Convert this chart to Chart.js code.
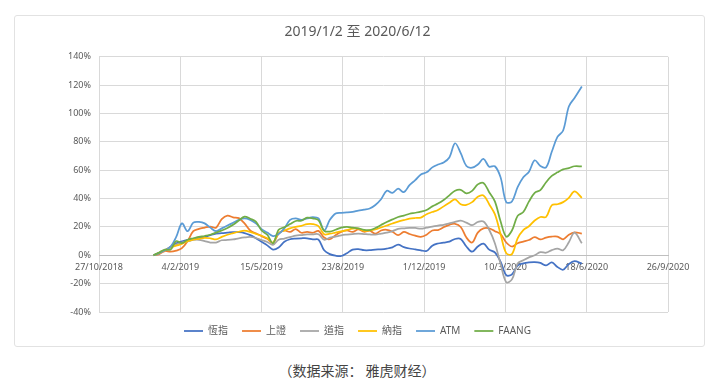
<!DOCTYPE html>
<html>
<head>
<meta charset="utf-8">
<script src="https://cdn.jsdelivr.net/npm/chart.js@4.4.0/dist/chart.umd.min.js"></script>
<style>
  html, body { margin: 0; padding: 0; background: #fff; }
  body { width: 728px; height: 387px; position: relative; overflow: hidden; }
  .card { position: absolute; left: 14px; top: 15px; width: 691px; height: 332px; border: 1px solid #e2e2e2; border-radius: 3px; box-sizing: border-box; }
  .wrap { position: absolute; left: 14px; top: 15px; width: 692px; height: 331px; }
  .source { position: absolute; left: 0; width: 714px; top: 360px; text-align: center; font-size: 14px; line-height: 20px; color: #444; font-family: 'Noto Sans CJK SC', sans-serif; }
</style>
</head>
<body>
<div class="card"></div>
<div class="wrap"><canvas id="perfChart"></canvas></div>
<div class="source">（数据来源： 雅虎财经）</div>
<script>
// weekly samples, 2019/1/2 -> 2020/6/12
const dates = [
  '2019-01-02', '2019-01-09', '2019-01-16', '2019-01-23', '2019-01-30', '2019-02-06', '2019-02-13', '2019-02-20',
  '2019-02-27', '2019-03-06', '2019-03-13', '2019-03-20', '2019-03-27', '2019-04-03', '2019-04-10', '2019-04-17',
  '2019-04-24', '2019-05-01', '2019-05-08', '2019-05-15', '2019-05-22', '2019-05-29', '2019-06-05', '2019-06-12',
  '2019-06-19', '2019-06-26', '2019-07-03', '2019-07-10', '2019-07-17', '2019-07-24', '2019-07-31', '2019-08-07',
  '2019-08-14', '2019-08-21', '2019-08-28', '2019-09-04', '2019-09-11', '2019-09-18', '2019-09-25', '2019-10-02',
  '2019-10-09', '2019-10-16', '2019-10-23', '2019-10-30', '2019-11-06', '2019-11-13', '2019-11-20', '2019-11-27',
  '2019-12-04', '2019-12-11', '2019-12-18', '2019-12-25', '2020-01-01', '2020-01-08', '2020-01-15', '2020-01-22',
  '2020-01-29', '2020-02-05', '2020-02-12', '2020-02-19', '2020-02-26', '2020-03-04', '2020-03-11', '2020-03-18',
  '2020-03-25', '2020-04-01', '2020-04-08', '2020-04-15', '2020-04-22', '2020-04-29', '2020-05-06', '2020-05-13',
  '2020-05-20', '2020-05-27', '2020-06-03', '2020-06-12'
];

// cumulative return, %
const hsi = [0, 1.5, 3.5, 6, 8.5, 9.8, 10.9, 11.4, 12.2, 12.9, 14.2, 15.3, 15.6, 16, 16.4, 16.3, 15.7, 14.2, 12, 9.5,
  7, 4, 5.5, 9.5, 11.3, 11.8, 12, 12, 11.2, 11, 3.5, 0.8, -0.3, -0.5, 1.5, 4, 4.4, 3.6, 3.6, 4,
  4.2, 4.7, 5.6, 7.5, 5.8, 4.8, 4.2, 3.5, 3, 6.8, 8.3, 9, 9.6, 11.5, 11.5, 6.2, 2.5, 6.2, 8.2, 4,
  2, -4.5, -14, -13.5, -7.3, -5.7, -5, -4.8, -5.4, -7.2, -5, -8.2, -10.2, -6.2, -4.2, -5.9];
const shc = [0, 0.8, 3, 2.5, 3.3, 5, 10, 17, 18.6, 19.5, 20.3, 19.5, 25.5, 28, 26.8, 26.2, 22.5, 17.5, 15.5, 13.5,
  11.6, 8.7, 15.2, 17.5, 16.5, 18.5, 15.9, 16.5, 15.9, 17.2, 12.5, 11.3, 14.2, 16.5, 17.5, 16.5, 18.2, 16.6, 17.4, 15.2,
  17.5, 18, 16.6, 14.2, 16.5, 15, 13.8, 13, 14.5, 17.5, 17.8, 19.8, 21.5, 22.2, 20, 12.5, 9, 16, 19, 19,
  17, 15, 9, 6.2, 8.5, 9.6, 10.8, 12.8, 11.2, 12.5, 13.2, 13.2, 11.3, 14.5, 16.2, 15.3];
const dji = [0, 1.8, 3.5, 5.5, 7.5, 9, 9.8, 10.8, 10.9, 10, 9, 9, 10.6, 10.8, 11.2, 12, 12.6, 12.9, 12.2, 10.8,
  9.4, 7.3, 11, 11.8, 12.8, 13.9, 14.3, 14.7, 14.8, 14.8, 11, 12.4, 13.2, 14.1, 14.6, 15, 15.3, 15, 14.7, 14.6,
  15.3, 16, 17, 18.6, 19, 19.4, 19.3, 18.8, 19.5, 20.2, 21, 21.5, 22.5, 23.5, 24.4, 23, 21.2, 23.5, 23.8, 18,
  8.5, -6, -19, -17, -5.8, -3.5, -1.5, 0, 2.2, 1.8, 3.6, 4.7, 3.6, 9.2, 16, 8.5];
const ndx = [0, 1.5, 3.5, 5.5, 6.8, 8, 10, 11, 11.6, 12.3, 12, 11.2, 13, 14.5, 15.6, 16.6, 17.4, 16.5, 15, 13.8,
  12, 9, 15.8, 17.4, 19, 20, 20.8, 22, 22, 20.6, 14.8, 15.2, 16, 16.8, 17.8, 18.8, 18.8, 17.2, 17.5, 18.2,
  19.6, 21, 22.4, 23.7, 24.8, 25.8, 26.3, 26.6, 29, 30.5, 32, 34.5, 37, 39.5, 36, 35.6, 37.5, 41.3, 42.2, 36,
  29, 15, 1.5, 0.8, 12, 17.8, 20.5, 24.5, 27, 27, 35.3, 36, 37.5, 40.5, 45, 40.5];
const atm = [0, 1.5, 3.5, 6, 13, 22.5, 17, 23, 23.5, 22.5, 19.5, 17, 19, 21, 23, 25, 26, 25, 22.5, 18.5,
  16, 13.5, 15, 19, 25, 26, 25, 26, 27, 26, 17.5, 25, 29.5, 30, 30.2, 30.6, 31.5, 32.2, 33, 35.5,
  39.5, 45.5, 44, 47, 44.5, 49.5, 53, 57, 58.5, 62, 64, 65.5, 69, 79, 72, 63, 61.8, 64, 68, 62.5,
  62.8, 55, 37.5, 38, 48, 55, 59, 67, 63, 62, 73, 83.5, 88, 105, 111, 119];
const faang = [0, 2, 4, 4, 10, 8.5, 11, 12, 13, 13.6, 14.5, 16, 17.5, 19.3, 21.5, 24.5, 27.3, 25.8, 23.8, 17.5,
  14.5, 8.5, 18, 19.8, 22, 24.2, 24.5, 26.5, 26, 24.7, 17.3, 16.7, 18, 19.5, 20, 19.5, 19, 18, 17.8, 19.2,
  21.4, 23.5, 25.3, 27, 28, 29.3, 30, 30.8, 32, 34.5, 36.5, 39, 42.3, 45.5, 46.2, 43.7, 45.4, 50, 51, 44.5,
  38, 24, 13.2, 17.5, 27.8, 30.5, 38, 44, 46, 51.5, 56, 58.5, 60.6, 61.5, 62.8, 62.7];

const seriesNames = ['恆指', '上證', '道指', '納指', 'ATM', 'FAANG'];
const seriesValues = [hsi, shc, dji, ndx, atm, faang];
const seriesColors = ['#4472C4', '#ED7D31', '#A5A5A5', '#FFC000', '#5B9BD5', '#70AD47'];

// x axis is days since 27/10/2018 (Excel axis min), ticks every 100 days
const axisStart = Date.UTC(2018, 9, 27);
const DAY = 86400000;
const toDay = (s) => {
    const [y, m, d] = s.split('-').map(Number);
    return Math.round((Date.UTC(y, m - 1, d) - axisStart) / DAY);
};
const fmtDay = (v) => {
    const dt = new Date(axisStart + v * DAY);
    return dt.getUTCDate() + '/' + (dt.getUTCMonth() + 1) + '/' + dt.getUTCFullYear();
};

const FONT = "'Noto Sans', 'Noto Sans CJK TC', sans-serif";
const GREY = '#595959';

const datasets = seriesNames.map((name, i) => ({
    label: name,
    data: dates.map((d, j) => ({ x: toDay(d), y: seriesValues[i][j] })),
    borderColor: seriesColors[i],
    backgroundColor: seriesColors[i],
    borderWidth: 1.75,
    pointRadius: 0,
    tension: 0.35,
    fill: false,
    order: seriesNames.length - i // later series on top, like Excel
}));

new Chart(document.getElementById('perfChart'), {
    type: 'line',
    data: { datasets },
    options: {
        responsive: true,
        maintainAspectRatio: false,
        animation: false,
        layout: { padding: { left: 33, right: 38, top: 0, bottom: 0 } },
        plugins: {
            title: {
                display: true,
                text: '2019/1/2 至 2020/6/12',
                color: GREY,
                font: { family: FONT, size: 14, weight: 'normal' },
                padding: { top: 9, bottom: 16 }
            },
            legend: {
                position: 'bottom',
                labels: {
                    usePointStyle: true,
                    pointStyle: 'line',
                    pointStyleWidth: 19,
                    padding: 14,
                    color: GREY,
                    font: { family: FONT, size: 10 },
                    sort: (a, b) => a.datasetIndex - b.datasetIndex
                }
            },
            tooltip: { enabled: false }
        },
        scales: {
            x: {
                type: 'linear',
                position: { y: 0 },
                min: 0,
                max: 700,
                grid: { color: '#d9d9d9', drawTicks: false },
                border: { color: '#bfbfbf' },
                ticks: {
                    stepSize: 100,
                    autoSkip: false,
                    maxRotation: 0,
                    padding: 7,
                    color: GREY,
                    font: { family: FONT, size: 9 },
                    callback: (v) => fmtDay(v)
                }
            },
            y: {
                min: -40,
                max: 140,
                grid: { color: '#d9d9d9', drawTicks: false },
                border: { display: false },
                ticks: {
                    stepSize: 20,
                    padding: 8,
                    color: GREY,
                    font: { family: FONT, size: 9 },
                    callback: (v) => v + '%'
                },
                afterFit: (scale) => { scale.width = 52; }
            }
        }
    }
});
</script>
</body>
</html>
